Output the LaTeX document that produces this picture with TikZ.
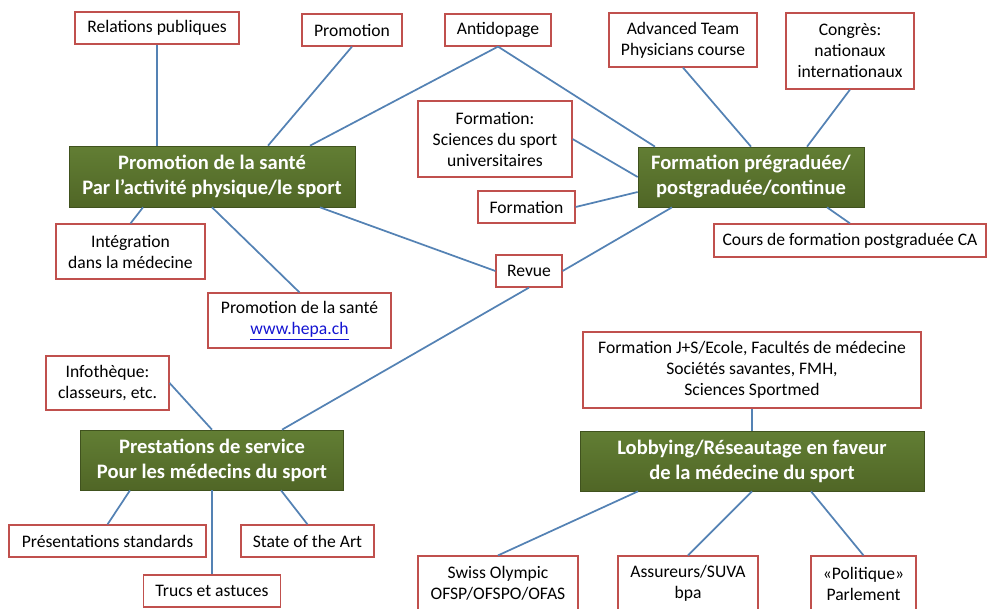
\documentclass[tikz,border=0pt]{standalone}
\usepackage{fontspec}
\setmainfont{Carlito}
\usepackage{tikz}
\usetikzlibrary{calc}
\usetikzlibrary{shapes, positioning}
\definecolor{boxred}{RGB}{192,80,77}
\definecolor{linkblue}{RGB}{84,130,180}
\definecolor{olivetop}{RGB}{98,126,52}
\definecolor{olivebot}{RGB}{80,102,38}
\definecolor{urlblue}{RGB}{20,20,210}
\tikzset{
  item/.style={draw=boxred, line width=0.9pt, fill=white, align=center, inner sep=0pt,
    font=\fontsize{13.2}{15.75}\selectfont},
  theme/.style={draw=olivebot!80!black, line width=0.5pt, top color=olivetop, bottom color=olivebot,
    text=white, align=center, inner sep=0pt, font=\fontsize{15.4}{18.75}\selectfont\bfseries},
  link/.style={draw=linkblue, line width=1.3pt}
}

\begin{document}
\begin{tikzpicture}[x=0.75pt, y=-0.75pt]
          \clip (0,0) rectangle (987,608);
          % themes
          \node[theme, minimum width=214.5pt, minimum height=45.75pt] (sante) at (212,176.5) {Promotion de la santé\\Par l’activité physique/le sport};
          \node[theme, minimum width=169.5pt, minimum height=45pt] (formgr) at (751,177) {Formation prégraduée/\\postgraduée/continue};
          \node[theme, minimum width=197pt, minimum height=45pt] (prest) at (212,460) {Prestations de service\\Pour les médecins du sport};
          \node[theme, minimum width=258pt, minimum height=45pt] (lobby) at (752,461) {Lobbying/Réseautage en faveur\\de la médecine du sport};
          % items
          \node[item, minimum width=123pt, minimum height=24pt] (relpub) at (157,28) {Relations publiques};
          \node[item, minimum width=75pt, minimum height=24pt] (promo) at (352,30) {Promotion};
          \node[item, minimum width=79.5pt, minimum height=24pt] (antidop) at (498,30) {Antidopage};
          \node[item, minimum width=111pt, minimum height=40.5pt] (advanced) at (683,40) {Advanced Team\\Physicians course};
          \node[item, minimum width=96pt, minimum height=57pt] (congres) at (850,51) {Congrès:\\nationaux\\internationaux};
          \node[item, minimum width=115.5pt, minimum height=57pt] (sciences) at (495,139) {Formation:\\Sciences du sport\\universitaires};
          \node[item, minimum width=72.75pt, minimum height=24pt] (formation) at (526.5,207) {Formation};
          \node[item, minimum width=204pt, minimum height=24.75pt] (cours) at (850,240.5) {Cours de formation postgraduée CA};
          \node[item, minimum width=49.5pt, minimum height=24pt] (revue) at (529,271) {Revue};
          \node[item, minimum width=111.75pt, minimum height=41.25pt] (integ) at (130.5,251.5) {Intégration\\dans la médecine};
          \node[item, minimum width=137.25pt, minimum height=41.25pt] (hepa) at (299.5,320.5) {Promotion de la santé\\\textcolor{urlblue}{\underline{www.hepa.ch}}};
          \node[item, minimum width=92.25pt, minimum height=40.5pt] (infotheque) at (107.5,383) {Infothèque:\\classeurs, etc.};
          \node[item, minimum width=147.75pt, minimum height=24pt] (presstd) at (107.5,541) {Présentations standards};
          \node[item, minimum width=99.75pt, minimum height=24pt] (stateart) at (307.5,541) {State of the Art};
          \node[item, minimum width=102.75pt, minimum height=24pt] (trucs) at (212,591) {Trucs et astuces};
          \node[item, minimum width=253.5pt, minimum height=57pt] (jsbox) at (752,370) {Formation J+S/Ecole, Facultés de médecine\\Sociétés savantes, FMH,\\Sciences Sportmed};
          \node[item, minimum width=120pt, minimum height=41.25pt] (swiss) at (498,583.5) {Swiss Olympic\\OFSP/OFSPO/OFAS};
          \node[item, minimum width=105pt, minimum height=41.25pt] (assur) at (688,583.5) {Assureurs/SUVA\\bpa};
          \node[item, minimum width=78.75pt, minimum height=41.25pt] (polit) at (863.5,583.5) {«Politique»\\Parlement};
          % connectors
          \draw[link] (relpub.south) -- ($(sante.north)+(-55,0)$);
          \draw[link] (promo.south) -- ($(sante.north)+(56,0)$);
          \draw[link] (antidop.south) -- ($(sante.north)+(98,0)$);
          \draw[link] (antidop.south) -- ($(formgr.north)+(-96,0)$);
          \draw[link] (sciences.east) -- (formgr.west);
          \draw[link] (formation.east) -- ($(formgr.west)+(0,15)$);
          \draw[link] (advanced.south) -- (formgr.north);
          \draw[link] (congres.south) -- ($(formgr.north)+(56,0)$);
          \draw[link] ($(formgr.south)+(76,0)$) -- (cours.north);
          \draw[link] ($(formgr.south)+(-79,0)$) -- (revue.east);
          \draw[link] ($(sante.south)+(108,0)$) -- (revue.west);
          \draw[link] (revue.south) -- ($(prest.north)+(70,0)$);
          \draw[link] ($(sante.south)+(-69,0)$) -- (integ.north);
          \draw[link] (sante.south) -- (hepa.north);
          \draw[link] (infotheque.east) -- (prest.north);
          \draw[link] ($(prest.south)+(-82,0)$) -- (presstd.north);
          \draw[link] (prest.south) -- (trucs.north);
          \draw[link] ($(prest.south)+(69,0)$) -- (stateart.north);
          \draw[link] (jsbox.south) -- (lobby.north);
          \draw[link] ($(lobby.south)+(-114,0)$) -- (swiss.north);
          \draw[link] (lobby.south) -- (assur.north);
          \draw[link] ($(lobby.south)+(59,0)$) -- (polit.north);
        \end{tikzpicture}
\end{document}
